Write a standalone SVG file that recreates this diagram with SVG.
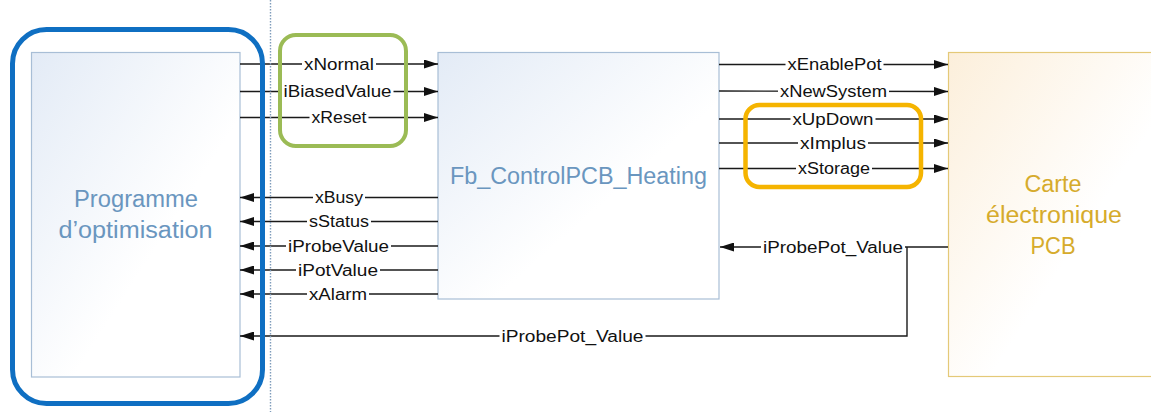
<svg xmlns="http://www.w3.org/2000/svg" width="1151" height="412" viewBox="0 0 1151 412">
<style>
  .box-blue { stroke: #a8bed6; stroke-width: 1.2; fill: url(#gBlue); }
  .box-gold { stroke: #e4c978; stroke-width: 1.2; fill: url(#gGold); }
  .title-blue { font-family: "Liberation Sans", Arial, sans-serif; font-size: 23px; fill: #6a96bf; text-anchor: middle; }
  .title-gold { font-family: "Liberation Sans", Arial, sans-serif; font-size: 23px; fill: #d6ab2c; text-anchor: middle; }
  .wire { stroke: #1a1a1a; stroke-width: 1.4; fill: none; }
  .lbl { font-family: "Liberation Sans", Arial, sans-serif; font-size: 16px; fill: #111; text-anchor: middle; }
  .lblbg { fill: #ffffff; }
  .hl { fill: none; }
</style>
<defs>
  <linearGradient id="gBlue" x1="0" y1="0" x2="1" y2="1">
    <stop offset="0" stop-color="#e3ebf6"/>
    <stop offset="0.6" stop-color="#ffffff"/>
    <stop offset="1" stop-color="#ffffff"/>
  </linearGradient>
  <linearGradient id="gGold" x1="0" y1="0" x2="1" y2="1">
    <stop offset="0" stop-color="#fcefdb"/>
    <stop offset="0.6" stop-color="#ffffff"/>
    <stop offset="1" stop-color="#ffffff"/>
  </linearGradient>
  <marker id="arr" markerUnits="userSpaceOnUse" markerWidth="15" markerHeight="9" refX="14" refY="4.5" orient="auto">
    <path d="M0,0 L14,4.5 L0,9 Z" fill="#111"/>
  </marker>
</defs>
<rect width="1151" height="412" fill="#ffffff"/>

<g id="node-programme">
  <rect class="box-blue" x="31.5" y="52.5" width="208.5" height="324.5"/>
  <text class="title-blue" x="136" y="207" textLength="124" lengthAdjust="spacingAndGlyphs">Programme</text>
  <text class="title-blue" x="135.5" y="238" textLength="154" lengthAdjust="spacingAndGlyphs">d’optimisation</text>
</g>

<g id="node-fb">
  <rect class="box-blue" x="438" y="52.5" width="281" height="246.5"/>
  <text class="title-blue" x="578.5" y="184" textLength="257" lengthAdjust="spacingAndGlyphs">Fb_ControlPCB_Heating</text>
</g>

<g id="node-carte">
  <rect class="box-gold" x="948.5" y="52.5" width="210" height="324"/>
  <text class="title-gold" x="1053" y="192" textLength="57" lengthAdjust="spacingAndGlyphs">Carte</text>
  <text class="title-gold" x="1054" y="223" textLength="136" lengthAdjust="spacingAndGlyphs">électronique</text>
  <text class="title-gold" x="1053" y="254" textLength="45" lengthAdjust="spacingAndGlyphs">PCB</text>
</g>

<g id="connectors">
  <!-- inputs to Fb -->
  <line class="wire" x1="240" y1="64" x2="438" y2="64" marker-end="url(#arr)"/>
  <line class="wire" x1="240" y1="91.5" x2="438" y2="91.5" marker-end="url(#arr)"/>
  <line class="wire" x1="240" y1="117.5" x2="438" y2="117.5" marker-end="url(#arr)"/>
  <!-- outputs to programme -->
  <line class="wire" x1="438" y1="197.5" x2="240" y2="197.5" marker-end="url(#arr)"/>
  <line class="wire" x1="438" y1="221.5" x2="240" y2="221.5" marker-end="url(#arr)"/>
  <line class="wire" x1="438" y1="246" x2="240" y2="246" marker-end="url(#arr)"/>
  <line class="wire" x1="438" y1="270" x2="240" y2="270" marker-end="url(#arr)"/>
  <line class="wire" x1="438" y1="294" x2="240" y2="294" marker-end="url(#arr)"/>
  <!-- outputs to PCB -->
  <line class="wire" x1="719" y1="64.5" x2="948" y2="64.5" marker-end="url(#arr)"/>
  <line class="wire" x1="719" y1="91" x2="948" y2="91.5" marker-end="url(#arr)"/>
  <line class="wire" x1="719" y1="119" x2="948" y2="119" marker-end="url(#arr)"/>
  <line class="wire" x1="719" y1="143" x2="948" y2="143" marker-end="url(#arr)"/>
  <line class="wire" x1="719" y1="168.5" x2="948" y2="168.5" marker-end="url(#arr)"/>
  <!-- feedback -->
  <line class="wire" x1="948" y1="247" x2="720" y2="247" marker-end="url(#arr)"/>
  <polyline class="wire" points="907,247 907,336 240,336" marker-end="url(#arr)"/>

  <!-- label backgrounds -->
  <rect class="lblbg" x="302" y="56" width="74" height="16"/>
  <rect class="lblbg" x="281.5" y="83.5" width="112" height="16"/>
  <rect class="lblbg" x="309.5" y="109.5" width="59" height="16"/>
  <rect class="lblbg" x="313" y="189.5" width="52" height="16"/>
  <rect class="lblbg" x="307" y="213.5" width="64" height="16"/>
  <rect class="lblbg" x="286" y="238" width="105" height="16"/>
  <rect class="lblbg" x="296" y="262" width="84" height="16"/>
  <rect class="lblbg" x="307" y="286" width="62" height="16"/>
  <rect class="lblbg" x="785.5" y="56.5" width="98" height="16"/>
  <rect class="lblbg" x="778" y="83.5" width="111" height="16"/>
  <rect class="lblbg" x="790.5" y="111" width="85" height="16"/>
  <rect class="lblbg" x="798" y="135" width="70" height="16"/>
  <rect class="lblbg" x="796" y="160.5" width="76" height="16"/>
  <rect class="lblbg" x="761" y="239" width="144" height="16"/>
  <rect class="lblbg" x="499.5" y="328" width="146" height="16"/>

  <!-- labels -->
  <text class="lbl" x="339" y="69.5" textLength="70" lengthAdjust="spacingAndGlyphs">xNormal</text>
  <text class="lbl" x="337.5" y="97" textLength="108" lengthAdjust="spacingAndGlyphs">iBiasedValue</text>
  <text class="lbl" x="339" y="123" textLength="55" lengthAdjust="spacingAndGlyphs">xReset</text>
  <text class="lbl" x="339" y="203" textLength="48" lengthAdjust="spacingAndGlyphs">xBusy</text>
  <text class="lbl" x="339" y="227" textLength="60" lengthAdjust="spacingAndGlyphs">sStatus</text>
  <text class="lbl" x="338.5" y="251.5" textLength="101" lengthAdjust="spacingAndGlyphs">iProbeValue</text>
  <text class="lbl" x="338" y="275.5" textLength="80" lengthAdjust="spacingAndGlyphs">iPotValue</text>
  <text class="lbl" x="338" y="299.5" textLength="58" lengthAdjust="spacingAndGlyphs">xAlarm</text>
  <text class="lbl" x="834.5" y="70" textLength="94" lengthAdjust="spacingAndGlyphs">xEnablePot</text>
  <text class="lbl" x="833.5" y="97" textLength="107" lengthAdjust="spacingAndGlyphs">xNewSystem</text>
  <text class="lbl" x="833" y="124.5" textLength="81" lengthAdjust="spacingAndGlyphs">xUpDown</text>
  <text class="lbl" x="833" y="148.5" textLength="66" lengthAdjust="spacingAndGlyphs">xImplus</text>
  <text class="lbl" x="834" y="174" textLength="72" lengthAdjust="spacingAndGlyphs">xStorage</text>
  <text class="lbl" x="833" y="252.5" textLength="140" lengthAdjust="spacingAndGlyphs">iProbePot_Value</text>
  <text class="lbl" x="572.5" y="341.5" textLength="142" lengthAdjust="spacingAndGlyphs">iProbePot_Value</text>
</g>

<g id="divider">
  <line x1="270.5" y1="0" x2="270.5" y2="412" stroke="#7f9cbb" stroke-width="1.4" stroke-dasharray="1.5 1.5"/>
</g>

<g id="highlight-programme">
  <rect class="hl" x="12.5" y="29.5" width="250" height="374" rx="34" ry="34" stroke="#0f6fc2" stroke-width="5"/>
</g>
<g id="highlight-inputs">
  <rect class="hl" x="280" y="35" width="126" height="111" rx="16" ry="16" stroke="#9bbb55" stroke-width="4"/>
</g>
<g id="highlight-outputs">
  <rect class="hl" x="745.5" y="105" width="175.5" height="82" rx="14" ry="14" stroke="#f5b400" stroke-width="4.5"/>
</g>
</svg>
